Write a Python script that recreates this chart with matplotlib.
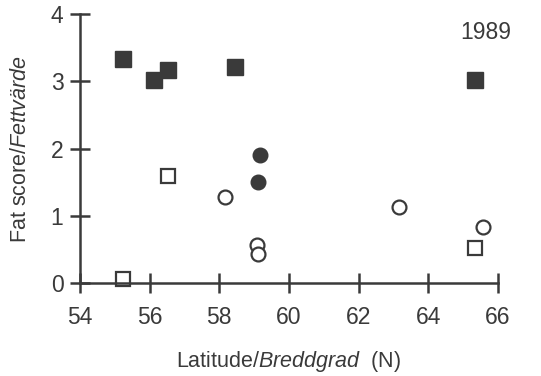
import matplotlib.pyplot as plt

plt.rcParams['font.family'] = ['Liberation Sans', 'DejaVu Sans']
plt.rcParams['mathtext.fontset'] = 'custom'
plt.rcParams['mathtext.rm'] = 'Liberation Sans'
plt.rcParams['mathtext.it'] = 'Liberation Sans:italic'

# filled squares
fsq_lat = [55.24, 56.13, 56.54, 58.46, 65.35]
fsq_fat = [3.33, 3.02, 3.17, 3.22, 3.02]
# open squares
osq_lat = [56.52, 55.22, 65.35]
osq_fat = [1.59, 0.07, 0.52]
# filled circles
fci_lat = [59.17, 59.10]
fci_fat = [1.90, 1.51]
# open circles
oci_lat = [58.17, 63.17, 65.59, 59.07, 59.12]
oci_fat = [1.28, 1.14, 0.84, 0.57, 0.44]

col = '#3a3a3a'
fig = plt.figure(figsize=(5.41, 3.76), dpi=100)
ax = fig.add_axes([0.148, 0.2465, 0.772, 0.7163])

ax.plot(fsq_lat, fsq_fat, 's', ms=11, color=col, mec=col, ls='none', clip_on=False)
ax.plot(osq_lat, osq_fat, 's', ms=10.5, mfc='white', mec=col, mew=1.6, ls='none', clip_on=False)
ax.plot(fci_lat, fci_fat, 'o', ms=10.5, color=col, ls='none', clip_on=False)
ax.plot(oci_lat, oci_fat, 'o', ms=10, mfc='white', mec=col, mew=1.6, ls='none', clip_on=False)

ax.set_xlim(54, 66)
ax.set_ylim(0, 4)
ax.set_xticks(range(54, 67, 2))
ax.set_yticks(range(0, 5))
for s in ['top', 'right']:
    ax.spines[s].set_visible(False)
for s in ['left', 'bottom']:
    ax.spines[s].set_linewidth(1.8)
    ax.spines[s].set_color(col)
ax.tick_params(direction='inout', length=14, width=1.8, color=col,
               labelsize=16.5, labelcolor=col, pad=5)
ax.tick_params(axis='x', pad=9)

ax.text(66.4, 3.73, '1989', ha='right', va='center', fontsize=16.5, color=col)
fig.text(0.533, 0.038, r'Latitude/$\it{Breddgrad}$  (N)', ha='center', va='center',
         fontsize=15.5, color=col)
fig.text(0.037, 0.604, r'Fat score/$\it{Fettvärde}$', ha='center', va='center',
         rotation=90, fontsize=15.5, color=col)

fig.savefig('out.png', dpi=100)
